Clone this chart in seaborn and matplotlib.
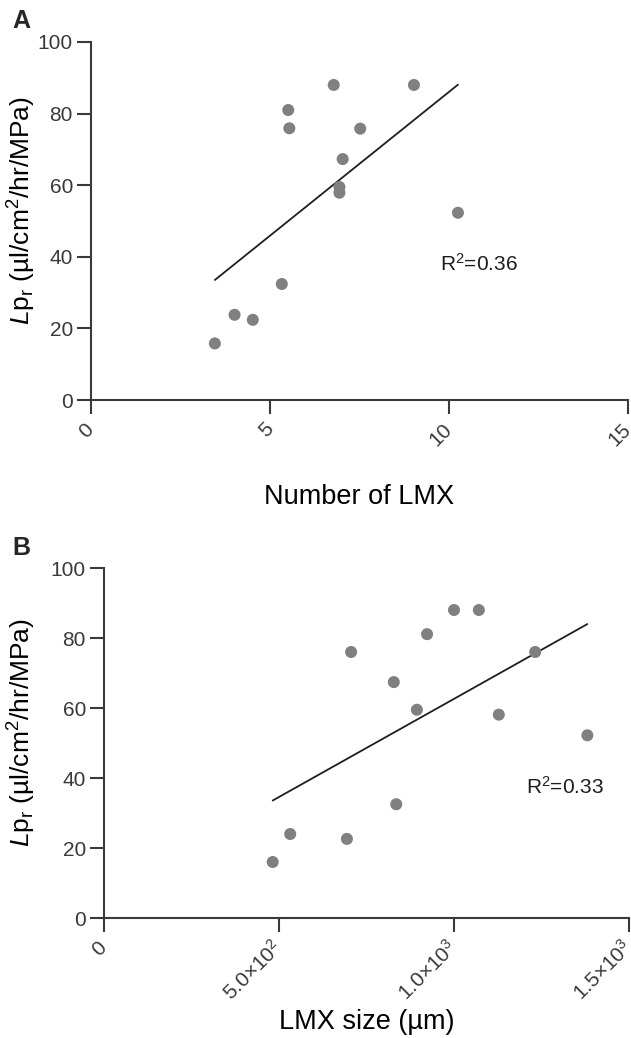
import matplotlib
matplotlib.use("Agg")
import matplotlib.pyplot as plt
import seaborn as sns
import pandas as pd

# ---- data ----
n_lmx = [3.46, 4.01, 4.52, 5.33, 5.51, 5.54, 6.78, 6.94, 6.94, 7.03, 7.52, 9.02, 10.25]
lp_a = [15.8, 23.8, 22.4, 32.4, 81.0, 75.9, 88.0, 59.5, 57.9, 67.3, 75.8, 88.0, 52.3]

lmx_size = [482, 532, 694, 835, 706, 828, 894, 923, 1000, 1071, 1128, 1232, 1381]
lp_b = [16.0, 24.0, 22.6, 32.5, 76.0, 67.4, 59.5, 81.1, 88.0, 88.0, 58.1, 76.0, 52.2]

y_ticks = [0, 20, 40, 60, 80, 100]
xa_ticks = [0, 5, 10, 15]
xa_labels = ["0", "5", "10", "15"]
xb_ticks = [0, 500, 1000, 1500]
xb_labels = ["0", r"5.0×10$^{2}$", r"1.0×10$^{3}$", r"1.5×10$^{3}$"]
r2_a = "R$^{2}$=0.36"
r2_b = "R$^{2}$=0.33"

sns.set_theme(style="ticks")
plt.rcParams["font.family"] = ["Liberation Sans", "DejaVu Sans"]
plt.rcParams["mathtext.fontset"] = "custom"
plt.rcParams["mathtext.rm"] = "Liberation Sans"
plt.rcParams["mathtext.it"] = "Liberation Sans:italic"
plt.rcParams["mathtext.bf"] = "Liberation Sans:bold"

W, H = 631, 1038
fig = plt.figure(figsize=(W / 100, H / 100), dpi=100)

ylabel = r"$\mathit{L}$p$_\mathrm{r}$ (µl/cm$^{2}$/hr/MPa)"
spine_c = "#3a3a3a"
tick_c = "#3a3a3a"
dot_c = "#808080"


def style(ax, xlim, xticks, xlabels, xlabel, xl_y, yl_x, yl_y):
    ax.set_xlim(*xlim)
    ax.set_ylim(0, 100)
    ax.set_yticks(y_ticks)
    ax.set_xticks(xticks)
    ax.set_xticklabels(xlabels, rotation=45, ha="right", va="center",
                       rotation_mode="anchor")
    ax.tick_params(axis="both", length=10, width=1.5, color=spine_c,
                   labelsize=15, labelcolor=tick_c, pad=3)
    ax.tick_params(axis="x", pad=9)
    for s in ["top", "right"]:
        ax.spines[s].set_visible(False)
    for s in ["left", "bottom"]:
        ax.spines[s].set_color(spine_c)
        ax.spines[s].set_linewidth(1.5)
    ax.set_xlabel(xlabel, fontsize=19.5, color="black")
    ax.xaxis.set_label_coords(0.5, xl_y)
    ax.set_ylabel(ylabel, fontsize=19, color="black")
    ax.yaxis.set_label_coords(yl_x, yl_y)
    ax.set_facecolor("white")


# Panel A
axA = fig.add_axes([91 / W, (H - 400) / H, (628 - 91) / W, (400 - 42) / H])
dfA = pd.DataFrame({"x": n_lmx, "y": lp_a})
sns.scatterplot(data=dfA, x="x", y="y", ax=axA, color=dot_c, s=75,
                edgecolor="none", zorder=3)
sns.regplot(data=dfA, x="x", y="y", ax=axA, scatter=False, ci=None,
            color="#1e1e1e", line_kws={"linewidth": 1.3})
style(axA, (0, 15), xa_ticks, xa_labels, "Number of LMX", -0.235, -0.098, 0.528)
axA.text(9.75, 36, r2_a, fontsize=15, color="#1e1e1e", va="baseline", ha="left")

# Panel B
axB = fig.add_axes([104 / W, (H - 918) / H, (629 - 104) / W, (918 - 568) / H])
dfB = pd.DataFrame({"x": lmx_size, "y": lp_b})
sns.scatterplot(data=dfB, x="x", y="y", ax=axB, color=dot_c, s=75,
                edgecolor="none", zorder=3)
sns.regplot(data=dfB, x="x", y="y", ax=axB, scatter=False, ci=None,
            color="#1e1e1e", line_kws={"linewidth": 1.3})
style(axB, (0, 1500), xb_ticks, xb_labels, "LMX size (µm)", -0.26, -0.125, 0.531)
axB.text(1207, 35.6, r2_b, fontsize=15, color="#1e1e1e", va="baseline", ha="left")

fig.text(12 / W, 1 - 9 / H, "A", fontsize=18, fontweight="bold", va="top", ha="left")
fig.text(12 / W, 1 - 536 / H, "B", fontsize=18, fontweight="bold", va="top", ha="left")

fig.savefig("out.png", dpi=100, facecolor="white")
